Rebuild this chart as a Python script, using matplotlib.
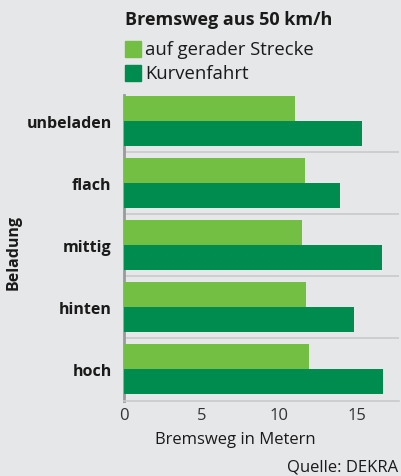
import matplotlib
matplotlib.use("Agg")
import matplotlib.pyplot as plt
from matplotlib.patches import Rectangle
import numpy as np

categories = ["unbeladen", "flach", "mittig", "hinten", "hoch"]
series_names = ["auf gerader Strecke", "Kurvenfahrt"]
gerade = [11.0, 11.65, 11.45, 11.7, 11.9]
kurve = [15.3, 13.9, 16.6, 14.8, 16.7]
xticks = [0, 5, 10, 15]

c_light = "#72BF44"
c_dark = "#008C4F"
bg = "#E6E7E9"

plt.rcParams['font.family'] = ['Open Sans', 'DejaVu Sans']
W, H = 401, 477
fig = plt.figure(figsize=(W/100, H/100), dpi=100, facecolor=bg)
ax = fig.add_axes([124/W, 1-402/H, (399-124)/W, (402-96)/H], facecolor=bg)

y = np.arange(len(categories))
h = 0.4
ax.barh(y - h/2, gerade, height=h, color=c_light, zorder=3)
ax.barh(y + h/2, kurve, height=h, color=c_dark, zorder=3)

ax.set_xlim(0, 17.7)
ax.set_ylim(4.52, -0.42)
ax.set_yticks(y)
ax.set_yticklabels(categories, fontweight='bold', fontsize=11.5, color='#1a1a1a')
for lbl in ax.get_yticklabels():
    lbl.set_verticalalignment('center_baseline')
ax.set_xticks(xticks)
ax.set_xticklabels([str(t) for t in xticks], fontsize=12, color='#333333')
ax.tick_params(axis='y', length=0, pad=9)
ax.tick_params(axis='x', length=0, pad=4)
for yy in y[:-1] + 0.5:
    ax.axhline(yy, color='#C8C9CC', lw=1.2, zorder=1)
for s in ['top', 'right']:
    ax.spines[s].set_visible(False)
ax.spines['bottom'].set_color('#C8C9CC')
ax.spines['bottom'].set_linewidth(1.2)
ax.spines['left'].set_color('#9A9A9A')
ax.spines['left'].set_linewidth(2)

fig.text(235/W, 1-440/H, "Bremsweg in Metern", fontsize=12, ha='center', va='center',
         color='#1a1a1a')

fig.text(14/W, 1-252/H, "Beladung", rotation=90, fontweight='bold', fontsize=11.5,
         ha='center', va='center', color='#1a1a1a')

fig.text(125/W, 1-20/H, "Bremsweg aus 50 km/h", fontweight='bold', fontsize=13,
         ha='left', va='center', color='#1a1a1a')
for i, (name, col) in enumerate(zip(series_names, [c_light, c_dark])):
    yc = 50 + i*24
    fig.patches.append(Rectangle((125/W, 1-(yc+8)/H), 16/W, 16/H, transform=fig.transFigure,
                                 color=col, figure=fig))
    fig.text(145/W, 1-yc/H, name, fontsize=13.3, ha='left', va='center', color='#1a1a1a')

fig.text(398/W, 1-468/H, "Quelle: DEKRA", fontsize=12, ha='right', va='center', color='#1a1a1a')

fig.savefig("out.png", dpi=100, facecolor=bg)
